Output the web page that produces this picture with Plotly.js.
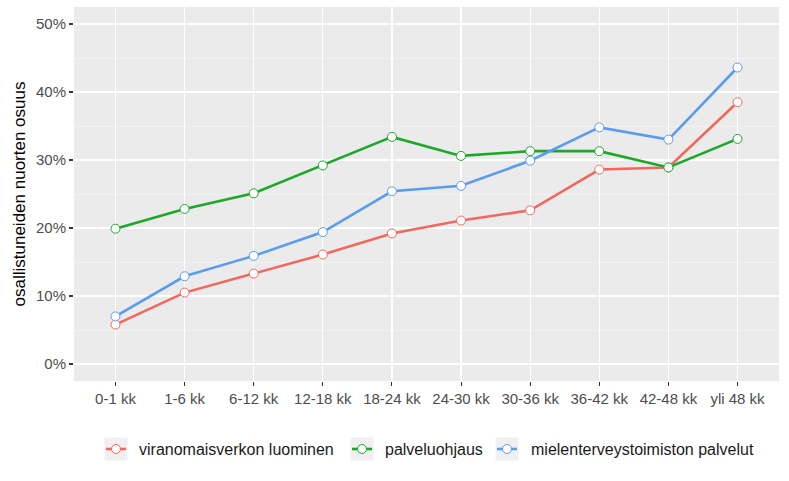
<!DOCTYPE html>
<html>
<head>
<meta charset="utf-8">
<script src="https://cdn.plot.ly/plotly-3.0.1.min.js"></script>
<style>html,body{margin:0;padding:0;background:#fff}#chart{width:789px;height:481px}</style>
</head>
<body>
<div id="chart"></div>
<script>
const categories = ["0-1 kk","1-6 kk","6-12 kk","12-18 kk","18-24 kk","24-30 kk","30-36 kk","36-42 kk","42-48 kk","yli 48 kk"];
const seriesNames = ["viranomaisverkon luominen","palveluohjaus","mielenterveystoimiston palvelut"];
const viranomaisverkko = [0.058,0.105,0.133,0.161,0.192,0.211,0.226,0.286,0.289,0.385];
const palveluohjaus = [0.199,0.228,0.251,0.292,0.334,0.306,0.313,0.313,0.289,0.331];
const mielenterveys = [0.070,0.129,0.159,0.194,0.254,0.262,0.299,0.348,0.330,0.436];
const colors = ["#F0695F","#1DA82A","#5B9BF0"];
const yTicks = [0,0.1,0.2,0.3,0.4,0.5];
const yTickText = ["0%","10%","20%","30%","40%","50%"];

const values = [viranomaisverkko, palveluohjaus, mielenterveys];
const traces = values.map((v,i)=>({
  type:'scatter', mode:'lines+markers', name:seriesNames[i],
  x:categories.map((c,j)=>j), y:v,
  line:{color:colors[i], width:2.6},
  marker:{size:9, color:'#ffffff', line:{color:colors[i], width:1}},
  hoverinfo:'skip', showlegend:false
}));

// Manual ggplot-style legend (paper coordinates)
const plotL = 74, plotW = 705, plotB = 381, plotH = 374;
const px = x => (x - plotL) / plotW;
const py = y => (plotB - y) / plotH;
const legY = 449;
const keyCenters = [116, 362, 507];
const textStarts = [137, 383, 529];
const shapes = [];
const annotations = [];
seriesNames.forEach((name, i) => {
  const c = keyCenters[i];
  shapes.push({type:'rect', xref:'paper', yref:'paper', x0:px(c-11.5), x1:px(c+11.5), y0:py(legY+11.5), y1:py(legY-11.5),
    fillcolor:'#F0F0F0', line:{width:0}});
  shapes.push({type:'line', xref:'paper', yref:'paper', x0:px(c-10), x1:px(c+10), y0:py(legY), y1:py(legY),
    line:{color:colors[i], width:2.6}});
  shapes.push({type:'circle', xref:'paper', yref:'paper', x0:px(c-4.5), x1:px(c+4.5), y0:py(legY+4.5), y1:py(legY-4.5),
    fillcolor:'#ffffff', line:{color:colors[i], width:1}});
  annotations.push({xref:'paper', yref:'paper', x:px(textStarts[i]), y:py(legY), xanchor:'left', yanchor:'middle',
    text:name, showarrow:false, font:{family:'Liberation Sans, Arial, sans-serif', size:16, color:'#1a1a1a'}});
});

const font = "Liberation Sans, Arial, sans-serif";
const layout = {
  width:789, height:481,
  margin:{l:74, r:10, t:7, b:100},
  paper_bgcolor:'#ffffff', plot_bgcolor:'#EBEBEB',
  font:{family:font, color:'#4D4D4D', size:15},
  showlegend:false,
  shapes: shapes,
  annotations: annotations,
  xaxis:{
    range:[-0.6, 9.6], tickmode:'array', tickvals:categories.map((c,j)=>j), ticktext:categories,
    showgrid:true, gridcolor:'#ffffff', gridwidth:1.2, zeroline:false,
    ticks:'outside', ticklen:4, tickcolor:'#333333', tickwidth:1.1,
    tickfont:{family:font, size:15, color:'#4D4D4D'}, showline:false, fixedrange:true
  },
  yaxis:{
    range:[-0.025, 0.525], tickmode:'array', tickvals:yTicks, ticktext:yTickText,
    showgrid:true, gridcolor:'#ffffff', gridwidth:1.2, zeroline:false,
    ticks:'outside', ticklen:4, tickcolor:'#333333', tickwidth:1.1,
    tickfont:{family:font, size:15, color:'#4D4D4D'},
    minor:{tickvals:[0.05,0.15,0.25,0.35,0.45], showgrid:true, gridcolor:'#F7F7F7', gridwidth:0.6, ticks:''},
    title:{text:'osallistuneiden nuorten osuus', font:{family:font, size:17, color:'#000000'}, standoff:6},
    fixedrange:true
  }
};
Plotly.newPlot('chart', traces, layout, {staticPlot:true, displayModeBar:false});
</script>
</body>
</html>
